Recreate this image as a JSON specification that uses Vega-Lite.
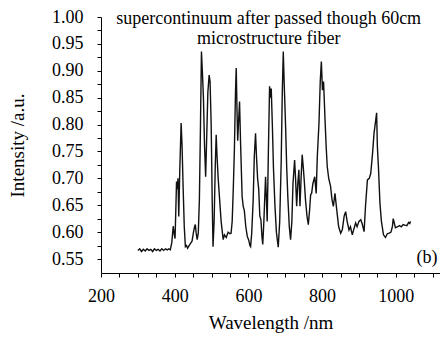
{
  "$schema": "https://vega.github.io/schema/vega-lite/v6.json",
  "autosize": {"type": "none"},
  "width": 339,
  "height": 256,
  "padding": {"left": 101, "top": 17, "right": 0, "bottom": 65},
  "background": "white",
  "config": {
    "view": {"stroke": null},
    "font": "Liberation Serif",
    "axis": {"grid": false, "domainColor": "black", "tickColor": "black", "labelColor": "black", "titleColor": "black", "labelFont": "Liberation Serif", "titleFont": "Liberation Serif", "titleFontWeight": "normal", "labelFontSize": 18, "titleFontSize": 19, "tickSize": 4, "tickWidth": 1, "domainWidth": 1, "labelOverlap": false}
  },
  "datasets": {
    "spectrum": [
      {"w": 300, "i": 0.566}, {"w": 305, "i": 0.569}, {"w": 310, "i": 0.564}, {"w": 315, "i": 0.568}, {"w": 320, "i": 0.565}, {"w": 325, "i": 0.569}, {"w": 330, "i": 0.566}, {"w": 335, "i": 0.568}, {"w": 340, "i": 0.564}, {"w": 345, "i": 0.569}, {"w": 350, "i": 0.566}, {"w": 355, "i": 0.568}, {"w": 360, "i": 0.565}, {"w": 365, "i": 0.569}, {"w": 370, "i": 0.566}, {"w": 375, "i": 0.569}, {"w": 380, "i": 0.567}, {"w": 384, "i": 0.569}, {"w": 388, "i": 0.567},
      {"w": 392, "i": 0.58}, {"w": 396, "i": 0.611}, {"w": 399, "i": 0.595}, {"w": 401, "i": 0.588}, {"w": 403, "i": 0.64}, {"w": 405, "i": 0.694}, {"w": 407, "i": 0.68}, {"w": 409, "i": 0.70}, {"w": 411, "i": 0.629}, {"w": 414, "i": 0.72}, {"w": 417.5, "i": 0.803}, {"w": 420, "i": 0.76}, {"w": 423, "i": 0.68}, {"w": 426, "i": 0.61}, {"w": 429, "i": 0.573}, {"w": 432, "i": 0.575}, {"w": 435, "i": 0.570}, {"w": 440, "i": 0.576}, {"w": 444, "i": 0.58}, {"w": 447, "i": 0.583}, {"w": 451, "i": 0.60}, {"w": 454, "i": 0.61}, {"w": 456, "i": 0.614}, {"w": 458, "i": 0.60}, {"w": 461, "i": 0.586}, {"w": 464, "i": 0.598},
      {"w": 467, "i": 0.66}, {"w": 470, "i": 0.80}, {"w": 472.6, "i": 0.936}, {"w": 475, "i": 0.90}, {"w": 478, "i": 0.85}, {"w": 481, "i": 0.76}, {"w": 484, "i": 0.703}, {"w": 487, "i": 0.78}, {"w": 490, "i": 0.86}, {"w": 493.5, "i": 0.892}, {"w": 496, "i": 0.88}, {"w": 499, "i": 0.80}, {"w": 502, "i": 0.65}, {"w": 504, "i": 0.573}, {"w": 507, "i": 0.62}, {"w": 510, "i": 0.72}, {"w": 512.6, "i": 0.781}, {"w": 515, "i": 0.74}, {"w": 518, "i": 0.70}, {"w": 522, "i": 0.66}, {"w": 526, "i": 0.62}, {"w": 531.6, "i": 0.586}, {"w": 535, "i": 0.595}, {"w": 540, "i": 0.59}, {"w": 545, "i": 0.60}, {"w": 550, "i": 0.597}, {"w": 553, "i": 0.598},
      {"w": 556, "i": 0.62}, {"w": 559, "i": 0.68}, {"w": 562, "i": 0.753}, {"w": 565, "i": 0.86}, {"w": 567, "i": 0.905}, {"w": 569, "i": 0.83}, {"w": 571, "i": 0.77}, {"w": 573, "i": 0.80}, {"w": 576, "i": 0.843}, {"w": 579, "i": 0.76}, {"w": 583, "i": 0.666}, {"w": 586, "i": 0.648}, {"w": 589, "i": 0.64}, {"w": 593, "i": 0.61}, {"w": 597, "i": 0.592}, {"w": 601, "i": 0.585}, {"w": 604, "i": 0.575}, {"w": 606, "i": 0.573}, {"w": 609, "i": 0.598},
      {"w": 613, "i": 0.66}, {"w": 616, "i": 0.74}, {"w": 619.4, "i": 0.784}, {"w": 622, "i": 0.74}, {"w": 625, "i": 0.70}, {"w": 628, "i": 0.68}, {"w": 631, "i": 0.63}, {"w": 634, "i": 0.623}, {"w": 637, "i": 0.59}, {"w": 639, "i": 0.577}, {"w": 642, "i": 0.62}, {"w": 646.6, "i": 0.703}, {"w": 649, "i": 0.66}, {"w": 651, "i": 0.62}, {"w": 654, "i": 0.74}, {"w": 657.5, "i": 0.871}, {"w": 660, "i": 0.85}, {"w": 662, "i": 0.867}, {"w": 665, "i": 0.80}, {"w": 668, "i": 0.72}, {"w": 672, "i": 0.65}, {"w": 676, "i": 0.60}, {"w": 681, "i": 0.572},
      {"w": 685, "i": 0.62}, {"w": 689, "i": 0.73}, {"w": 692, "i": 0.86}, {"w": 694.7, "i": 0.936}, {"w": 697, "i": 0.88}, {"w": 701, "i": 0.796}, {"w": 704, "i": 0.72}, {"w": 707, "i": 0.666}, {"w": 711, "i": 0.61}, {"w": 714.5, "i": 0.586}, {"w": 718, "i": 0.62}, {"w": 721, "i": 0.69}, {"w": 725.4, "i": 0.734}, {"w": 728, "i": 0.70}, {"w": 731, "i": 0.648}, {"w": 734, "i": 0.69}, {"w": 737, "i": 0.716}, {"w": 740, "i": 0.648}, {"w": 743, "i": 0.70}, {"w": 746, "i": 0.744}, {"w": 749, "i": 0.72}, {"w": 751.5, "i": 0.697}, {"w": 755, "i": 0.66}, {"w": 759, "i": 0.63}, {"w": 762.6, "i": 0.614}, {"w": 766, "i": 0.64}, {"w": 769, "i": 0.67}, {"w": 771.6, "i": 0.672}, {"w": 775, "i": 0.69}, {"w": 780, "i": 0.703}, {"w": 784, "i": 0.672},
      {"w": 787, "i": 0.74}, {"w": 791.6, "i": 0.803}, {"w": 795, "i": 0.88}, {"w": 798, "i": 0.917}, {"w": 801, "i": 0.864}, {"w": 804, "i": 0.88}, {"w": 808, "i": 0.809}, {"w": 811, "i": 0.76}, {"w": 814, "i": 0.722}, {"w": 818, "i": 0.70}, {"w": 823, "i": 0.685}, {"w": 827, "i": 0.66}, {"w": 830.6, "i": 0.648}, {"w": 835, "i": 0.672}, {"w": 840, "i": 0.64}, {"w": 845, "i": 0.61}, {"w": 850.5, "i": 0.598}, {"w": 855, "i": 0.605}, {"w": 860, "i": 0.63}, {"w": 864, "i": 0.638}, {"w": 868, "i": 0.62}, {"w": 873, "i": 0.604}, {"w": 877, "i": 0.61}, {"w": 882, "i": 0.595}, {"w": 886, "i": 0.605}, {"w": 891, "i": 0.617}, {"w": 895, "i": 0.61}, {"w": 900, "i": 0.62}, {"w": 905, "i": 0.623}, {"w": 909, "i": 0.615}, {"w": 914, "i": 0.601},
      {"w": 918, "i": 0.65}, {"w": 923, "i": 0.697}, {"w": 928, "i": 0.70}, {"w": 932, "i": 0.709}, {"w": 937, "i": 0.747}, {"w": 941, "i": 0.784}, {"w": 944, "i": 0.80}, {"w": 948, "i": 0.822}, {"w": 950, "i": 0.76}, {"w": 953, "i": 0.72}, {"w": 957, "i": 0.654}, {"w": 961, "i": 0.62}, {"w": 966.6, "i": 0.595}, {"w": 972, "i": 0.59}, {"w": 977, "i": 0.597}, {"w": 982, "i": 0.598}, {"w": 987, "i": 0.60}, {"w": 991, "i": 0.611}, {"w": 993, "i": 0.625}, {"w": 995, "i": 0.62}, {"w": 999, "i": 0.608}, {"w": 1005, "i": 0.61}, {"w": 1010, "i": 0.612}, {"w": 1015, "i": 0.61}, {"w": 1020, "i": 0.614}, {"w": 1024.5, "i": 0.613}, {"w": 1030, "i": 0.612}, {"w": 1035, "i": 0.618}, {"w": 1038, "i": 0.616}, {"w": 1040, "i": 0.62}
    ],
    "titleLines": [
      {"w": 655, "i": 0.997, "t": "supercontinuum after passed though 60cm"},
      {"w": 655, "i": 0.960, "t": "microstructure fiber"}
    ],
    "tag": [
      {"w": 1113, "i": 0.5515, "t": "(b)"}
    ]
  },
  "layer": [
    {
      "data": {"name": "spectrum"},
      "mark": {"type": "line", "color": "#111111", "strokeWidth": 1.4, "clip": true},
      "encoding": {
        "x": {"field": "w", "type": "quantitative", "title": "Wavelength /nm",
          "scale": {"domain": [200, 1120], "nice": false, "zero": false},
          "axis": {"values": [200, 250, 300, 350, 400, 450, 500, 550, 600, 650, 700, 750, 800, 850, 900, 950, 1000, 1050, 1100],
            "tickCount": 100,
            "labelExpr": "datum.value % 200 == 0 ? datum.value : ''", "labelPadding": 10, "titlePadding": 8, "labelFlush": false}},
        "y": {"field": "i", "type": "quantitative", "title": "Intensity /a.u.",
          "scale": {"domain": [0.524, 1.0], "nice": false, "zero": false},
          "axis": {"values": [0.55, 0.575, 0.6, 0.625, 0.65, 0.675, 0.7, 0.725, 0.75, 0.775, 0.8, 0.825, 0.85, 0.875, 0.9, 0.925, 0.95, 0.975, 1.0],
            "tickCount": 100,
            "labelExpr": "abs(round(datum.value*1000) % 50) == 0 ? format(datum.value, '.2f') : ''",
            "labelPadding": 14, "titlePadding": 24, "labelFlush": false}}
      }
    },
    {
      "data": {"name": "titleLines"},
      "mark": {"type": "text", "fontSize": 18, "font": "Liberation Serif", "color": "black", "baseline": "middle", "align": "center"},
      "encoding": {
        "x": {"field": "w", "type": "quantitative"},
        "y": {"field": "i", "type": "quantitative"},
        "text": {"field": "t"}
      }
    },
    {
      "data": {"name": "tag"},
      "mark": {"type": "text", "fontSize": 18, "font": "Liberation Serif", "color": "black", "baseline": "middle", "align": "right"},
      "encoding": {
        "x": {"field": "w", "type": "quantitative"},
        "y": {"field": "i", "type": "quantitative"},
        "text": {"field": "t"}
      }
    }
  ]
}
